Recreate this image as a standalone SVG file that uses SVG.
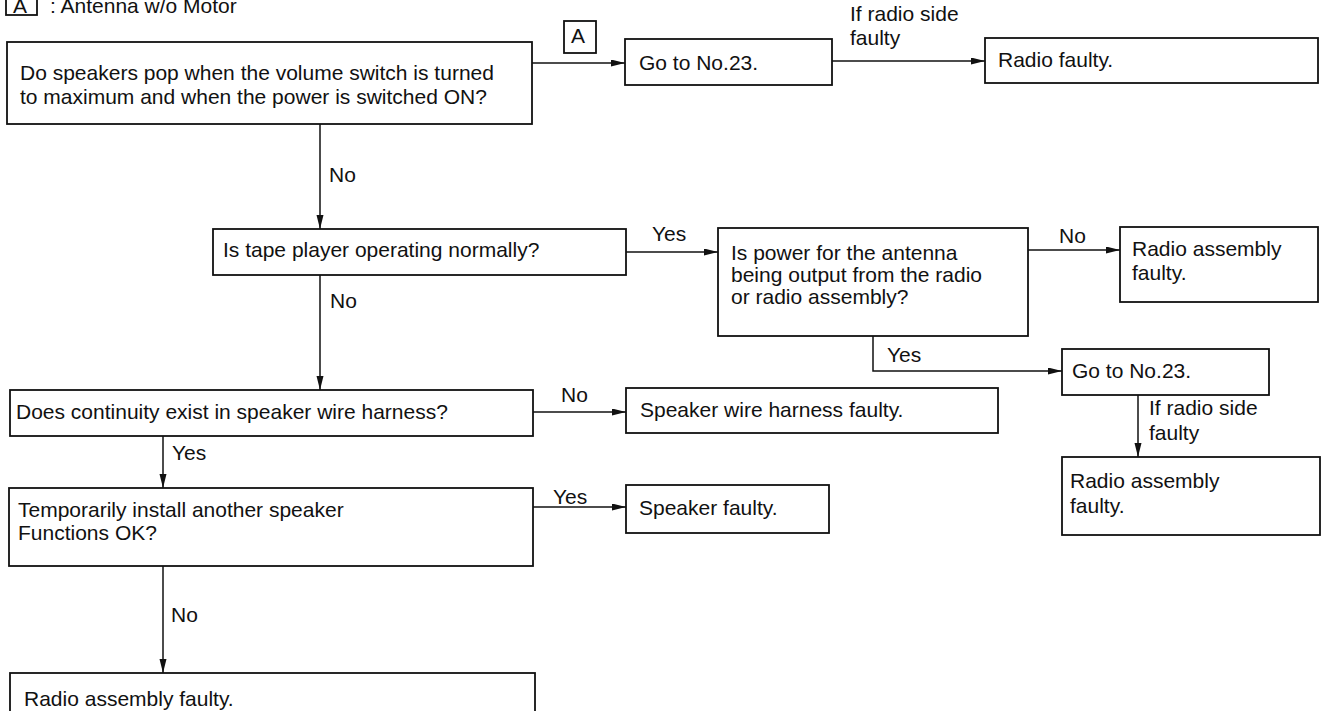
<svg xmlns="http://www.w3.org/2000/svg" width="1325" height="711" viewBox="0 0 1325 711">
<defs>
<style>
text{font-family:"Liberation Sans",Arial,sans-serif;font-size:21px;fill:#111}
.box{fill:#fff;stroke:#111;stroke-width:1.8}
.cn{fill:none;stroke:#111;stroke-width:1.5}
.arr{marker-end:url(#ah)}
</style>
<marker id="ah" markerUnits="userSpaceOnUse" markerWidth="15" markerHeight="8" refX="14" refY="3.5" orient="auto">
<path d="M0,0 L14,3.5 L0,7 z" fill="#111"/>
</marker>
</defs>
<rect width="1325" height="711" fill="#fff"/>

<g id="legend">
<rect class="box" x="6" y="-20" width="31" height="35"/>
<text x="13" y="13">A</text>
<text x="50" y="13">:  Antenna w/o Motor</text>
</g>

<g id="connectors">
<path class="cn arr" d="M532,63 H625"/>
<rect class="box" x="564" y="21" width="32" height="32" stroke-width="1.5"/>
<text x="571" y="43">A</text>
<path class="cn arr" d="M832,61 H985"/>
<text x="850" y="21">If radio side</text>
<text x="850" y="45">faulty</text>
<path class="cn arr" d="M320,124 V229"/>
<text x="329" y="182">No</text>
<path class="cn arr" d="M626,252 H718"/>
<text x="652" y="241">Yes</text>
<path class="cn arr" d="M1028,250 H1120"/>
<text x="1059" y="243">No</text>
<path class="cn arr" d="M873,336 V371 H1062"/>
<text x="887" y="362">Yes</text>
<path class="cn arr" d="M1138,395 V457"/>
<text x="1149" y="415">If radio side</text>
<text x="1149" y="440">faulty</text>
<path class="cn arr" d="M320,275 V390"/>
<text x="330" y="308">No</text>
<path class="cn arr" d="M533,412 H626"/>
<text x="561" y="402">No</text>
<path class="cn arr" d="M163,436 V488"/>
<text x="172" y="460">Yes</text>
<path class="cn arr" d="M533,507 H626"/>
<text x="553" y="504">Yes</text>
<path class="cn arr" d="M163,566 V673"/>
<text x="171" y="622">No</text>
</g>

<g id="q-speakers-pop">
<rect class="box" x="7" y="42" width="525" height="82"/>
<text x="20" y="80">Do speakers pop when the volume switch is turned</text>
<text x="20" y="104">to maximum and when the power is switched ON?</text>
</g>

<g id="goto-23-top">
<rect class="box" x="625" y="39" width="207" height="46"/>
<text x="639" y="70">Go to No.23.</text>
</g>

<g id="radio-faulty">
<rect class="box" x="985" y="38" width="333" height="45"/>
<text x="998" y="67">Radio faulty.</text>
</g>

<g id="q-tape-player">
<rect class="box" x="213" y="229" width="413" height="46"/>
<text x="223" y="257">Is tape player operating normally?</text>
</g>

<g id="q-antenna-power">
<rect class="box" x="718" y="228" width="310" height="108"/>
<text x="731" y="260">Is power for the antenna</text>
<text x="731" y="282">being output from the radio</text>
<text x="731" y="304">or radio assembly?</text>
</g>

<g id="radio-assembly-faulty-1">
<rect class="box" x="1120" y="227" width="198" height="75"/>
<text x="1132" y="256">Radio assembly</text>
<text x="1132" y="280">faulty.</text>
</g>

<g id="goto-23-right">
<rect class="box" x="1062" y="349" width="207" height="46"/>
<text x="1072" y="378">Go to No.23.</text>
</g>

<g id="radio-assembly-faulty-2">
<rect class="box" x="1062" y="457" width="258" height="78"/>
<text x="1070" y="488">Radio assembly</text>
<text x="1070" y="513">faulty.</text>
</g>

<g id="q-continuity">
<rect class="box" x="10" y="390" width="523" height="46"/>
<text x="16" y="419">Does continuity exist in speaker wire harness?</text>
</g>

<g id="harness-faulty">
<rect class="box" x="626" y="388" width="372" height="45"/>
<text x="640" y="417">Speaker wire harness faulty.</text>
</g>

<g id="q-temp-speaker">
<rect class="box" x="9" y="488" width="524" height="78"/>
<text x="18" y="517">Temporarily install another speaker</text>
<text x="18" y="540">Functions OK?</text>
</g>

<g id="speaker-faulty">
<rect class="box" x="626" y="485" width="203" height="48"/>
<text x="639" y="515">Speaker faulty.</text>
</g>

<g id="radio-assembly-faulty-3">
<rect class="box" x="10" y="673" width="525" height="50"/>
<text x="24" y="706">Radio assembly faulty.</text>
</g>
</svg>
